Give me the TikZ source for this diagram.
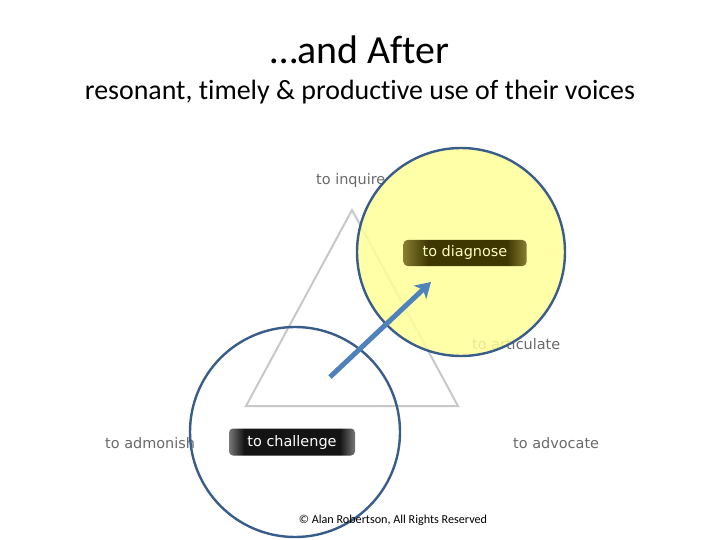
\documentclass[tikz,border=0pt]{standalone}
\usepackage{fontspec}
\setmainfont[Ligatures={NoCommon}]{Carlito}
\newfontfamily\verd{DejaVu Sans}
\usetikzlibrary{arrows.meta,shapes.geometric}
\definecolor{circblue}{RGB}{56,93,138}
\definecolor{arrblue}{RGB}{79,129,189}
\definecolor{lblgray}{RGB}{105,105,105}
\definecolor{trigray}{RGB}{200,200,200}
\definecolor{softyellow}{RGB}{255,255,153}
\definecolor{oliveedge}{RGB}{135,125,50}
\definecolor{olivemid}{RGB}{62,55,0}
\definecolor{chedge}{RGB}{120,120,120}
\definecolor{chmid}{RGB}{20,20,20}
\pgfdeclarehorizontalshading{diagshade}{100bp}{color(0bp)=(oliveedge); color(25bp)=(oliveedge); color(35bp)=(olivemid); color(67bp)=(olivemid); color(75bp)=(oliveedge); color(100bp)=(oliveedge)}
\pgfdeclarehorizontalshading{chalshade}{100bp}{color(0bp)=(chedge); color(25bp)=(chedge); color(31bp)=(chmid); color(69bp)=(chmid); color(75bp)=(chedge); color(100bp)=(chedge)}
\tikzset{
  lbl/.style={font=\verd\fontsize{14.5}{17}\selectfont, text=lblgray, inner sep=0pt},
  darkbox/.style={rounded corners=4bp, minimum height=26bp, inner sep=0pt,
     text height=11bp, text depth=3bp,
     font=\verd\fontsize{14.5}{17}\selectfont},
  ring/.style={draw=circblue, line width=2.4bp},
}
\begin{document}
\begin{tikzpicture}[x=1bp,y=-1bp]
\useasboundingbox (0,0) rectangle (720,540);
% titles
\node (title) at (360,50) {\fontsize{40}{46}\selectfont …and After};
\node (sub) at (360,92) {\fontsize{28}{32}\selectfont resonant, timely \& productive use of their voices};
% triangle
\coordinate (ta) at (352,210);
\coordinate (tl) at (246,406);
\coordinate (tr) at (458,406);
\draw[trigray, line width=2bp, line join=miter] (ta) -- (tl) -- (tr) -- cycle;
% labels
\node[lbl, anchor=west] (inq) at (316,181) {to inquire};
\node[lbl, anchor=west] (art) at (472,344) {to articulate};
\node[lbl, anchor=west] (adm) at (105,443) {to admonish};
\node[lbl, anchor=west] (adv) at (513,443) {to advocate};
% lower circle
\draw[ring] (295,432) circle[radius=105bp];
% yellow circle
\fill[softyellow, fill opacity=0.85] (461,252) circle[radius=104bp];
\draw[ring] (461,252) circle[radius=104bp];
% boxes
\node[darkbox, minimum width=123bp, shading=diagshade, text=yellow!25] (diag) at (465,253) {to diagnose};
\node[darkbox, minimum width=126bp, shading=chalshade, text=white, minimum height=27bp] (chal) at (292,442) {to challenge};
% arrow
\coordinate (as) at (330,377);
\coordinate (ae) at (431,282);
\draw[arrblue, line width=5bp, -{Stealth[length=15bp,width=18bp,inset=4bp]}] (as) -- (ae);
% copyright
\node (copy) at (393,520) {\fontsize{12.2}{14}\selectfont © Alan Robertson, All Rights Reserved};
\end{tikzpicture}
\end{document}
